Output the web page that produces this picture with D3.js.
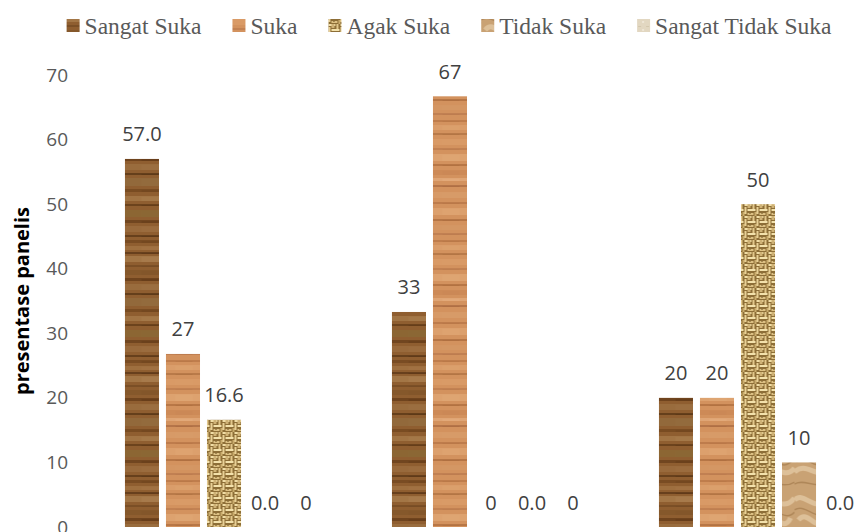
<!DOCTYPE html>
<html><head><meta charset="utf-8">
<script src="https://cdn.jsdelivr.net/npm/d3@7"></script>
<style>body{margin:0;background:#fff;overflow:hidden}</style>
</head><body>
<svg id="chart" width="858" height="532"></svg>
<script>
// ---- data ----
const categories = ["Kelompok 1", "Kelompok 2", "Kelompok 3"];
const seriesNames = ["Sangat Suka", "Suka", "Agak Suka", "Tidak Suka", "Sangat Tidak Suka"];
const sangatSuka = [57.0, 33.3, 20];
const suka = [26.8, 66.7, 20];
const agakSuka = [16.6, 0, 50];
const tidakSuka = [0, 0, 10];
const sangatTidakSuka = [0, 0, 0];
const valueLabels = [
  ["57.0", "27", "16.6", "0.0", "0"],
  ["33", "67", "0", "0.0", "0"],
  ["20", "20", "50", "10", "0.0"]
];
const yTicks = [0, 10, 20, 30, 40, 50, 60, 70];
const yTitle = "presentase panelis";

const seriesValues = [sangatSuka, suka, agakSuka, tidakSuka, sangatTidakSuka];

// ---- setup ----
const svg = d3.select("#chart");
const W = 858, H = 532;
svg.append("rect").attr("width", W).attr("height", H).attr("fill", "#fff");
const defs = svg.append("defs");

// textures
function woodPattern(id, base, stripes) {
  const p = defs.append("pattern").attr("id", id).attr("patternUnits", "userSpaceOnUse")
    .attr("width", 34).attr("height", 120);
  p.append("rect").attr("width", 34).attr("height", 120).attr("fill", base);
  stripes.forEach(s => {
    p.append("rect").attr("x", 0).attr("y", s[0]).attr("width", 34).attr("height", s[1]).attr("fill", s[2]).attr("opacity", 0.6);
    p.append("rect").attr("x", 17).attr("y", s[0] + 1).attr("width", 17).attr("height", Math.max(1, s[1] - 1)).attr("fill", s[2]).attr("opacity", 0.3);
  });
}
woodPattern("tex0", "#8f5e30", [
  [0,3,"#6b3f1a"],[6,4,"#a9794a"],[12,2,"#4f2c10"],[16,6,"#b08555"],[25,2,"#6e4520"],
  [30,5,"#7f5428"],[38,3,"#5a3212"],[44,6,"#a07446"],[53,2,"#4a2a0e"],[58,8,"#957042"],
  [69,3,"#6a4019"],[76,5,"#ad8252"],[84,2,"#553010"],[90,7,"#8a6a36"],[100,3,"#5e3615"],
  [106,6,"#a07244"],[115,2,"#4d2b0f"]
]);
woodPattern("tex1", "#d3925e", [
  [0,2,"#b2703f"],[5,5,"#e0a571"],[13,2,"#a86a3a"],[19,6,"#dda06a"],[28,2,"#b8774a"],
  [34,7,"#e4ad7a"],[44,2,"#a66636"],[50,5,"#c98552"],[58,3,"#e8b383"],[65,2,"#a2623a"],
  [72,6,"#daa06c"],[82,2,"#b06e40"],[88,7,"#e2aa77"],[99,2,"#a46436"],[105,5,"#d69a66"],
  [113,2,"#b5744a"]
]);
(function () {
  const p = defs.append("pattern").attr("id", "tex2").attr("patternUnits", "userSpaceOnUse")
    .attr("width", 12).attr("height", 12);
  p.append("rect").attr("width", 12).attr("height", 12).attr("fill", "#8d6e37");
  [[0,0,7,2,"#f1dda6"],[8,0,2,7,"#e2c78b"],[0,3,2,7,"#e8d096"],[3,5,8,2,"#f3e1ab"],
   [3,9,6,2,"#dcc083"],[10,8,2,4,"#c9ab6c"],[3,0,3,4,"#cfb276"],[5,9,1,1,"#6b4f22"]].forEach(r => {
    p.append("rect").attr("x", r[0]).attr("y", r[1]).attr("width", r[2]).attr("height", r[3]).attr("fill", r[4]);
  });
})();
(function () {
  const p = defs.append("pattern").attr("id", "tex3").attr("patternUnits", "userSpaceOnUse")
    .attr("width", 34).attr("height", 70);
  p.append("rect").attr("width", 34).attr("height", 70).attr("fill", "#c9a274");
  p.append("path").attr("d", "M0,10 C10,0 20,25 34,8 M4,30 C14,18 22,45 30,28 M0,52 C12,40 24,62 34,48")
    .attr("stroke", "#e2c8a2").attr("stroke-width", 5).attr("fill", "none").attr("opacity", 0.8);
  p.append("path").attr("d", "M0,20 C10,12 24,34 34,22 M2,42 C14,32 20,56 34,38 M0,64 C10,58 22,70 34,62")
    .attr("stroke", "#a98152").attr("stroke-width", 1.5).attr("fill", "none").attr("opacity", 0.8);
})();
(function () {
  const p = defs.append("pattern").attr("id", "tex4").attr("patternUnits", "userSpaceOnUse")
    .attr("width", 8).attr("height", 8);
  p.append("rect").attr("width", 8).attr("height", 8).attr("fill", "#e2d7c1");
  p.append("rect").attr("x", 1).attr("y", 2).attr("width", 3).attr("height", 1).attr("fill", "#d3c7ad");
  p.append("rect").attr("x", 5).attr("y", 5).attr("width", 2).attr("height", 2).attr("fill", "#eee6d6");
})();

// ---- scales ----
const y = d3.scaleLinear().domain([0, 70]).range([527, 75]);
const x0 = d3.scaleBand().domain(categories).range([90.5, 891.5]).paddingInner(0).paddingOuter(0);
const x1 = d3.scaleBand().domain(seriesNames).range([0, x0.bandwidth()]).paddingInner(0.17).paddingOuter(0.84);

// ---- y axis ----
const yAxis = d3.axisLeft(y).tickValues(yTicks).tickSize(0).tickPadding(0).tickFormat(d3.format("d"));
const ga = svg.append("g").attr("transform", "translate(68,0)").call(yAxis);
ga.select(".domain").remove();
ga.selectAll("text").attr("font-family", "'Open Sans', sans-serif").attr("font-size", 19)
  .attr("fill", "#595959");

svg.append("text").attr("transform", "translate(29,301) rotate(-90)")
  .attr("text-anchor", "middle").attr("font-family", "'Open Sans', sans-serif")
  .attr("font-weight", "bold").attr("font-size", 20).attr("fill", "#000").text(yTitle);

// ---- bars ----
const groups = svg.append("g").selectAll("g").data(categories).join("g")
  .attr("transform", d => `translate(${x0(d)},0)`);

groups.each(function (cat, ci) {
  const g = d3.select(this);
  seriesNames.forEach((s, si) => {
    const v = seriesValues[si][ci];
    if (v > 0) {
      g.append("rect").attr("x", x1(s)).attr("y", y(v)).attr("width", x1.bandwidth())
        .attr("height", y(0) - y(v)).attr("fill", `url(#tex${si})`);
    }
    g.append("text").attr("x", x1(s) + x1.bandwidth() / 2).attr("y", y(v) - 17.5)
      .attr("text-anchor", "middle").attr("font-family", "'Open Sans', sans-serif")
      .attr("font-size", 20).attr("fill", "#404040").text(valueLabels[ci][si]);
  });
});

// ---- legend ----
const legend = svg.append("g");
let cx = 0;
seriesNames.forEach((s, si) => {
  const item = legend.append("g").attr("transform", `translate(${cx},0)`);
  item.append("rect").attr("x", 0).attr("y", 19).attr("width", 13).attr("height", 13)
    .attr("fill", `url(#tex${si})`);
  const t = item.append("text").attr("x", 18).attr("y", 34)
    .attr("font-family", "'Liberation Serif', 'Times New Roman', serif")
    .attr("font-size", 23.5).attr("fill", "#595959").text(s);
  cx += 18 + t.node().getComputedTextLength() + 31;
});
const totalW = cx - 31;
legend.attr("transform", `translate(${449 - totalW / 2},0)`);
</script>
</body></html>
